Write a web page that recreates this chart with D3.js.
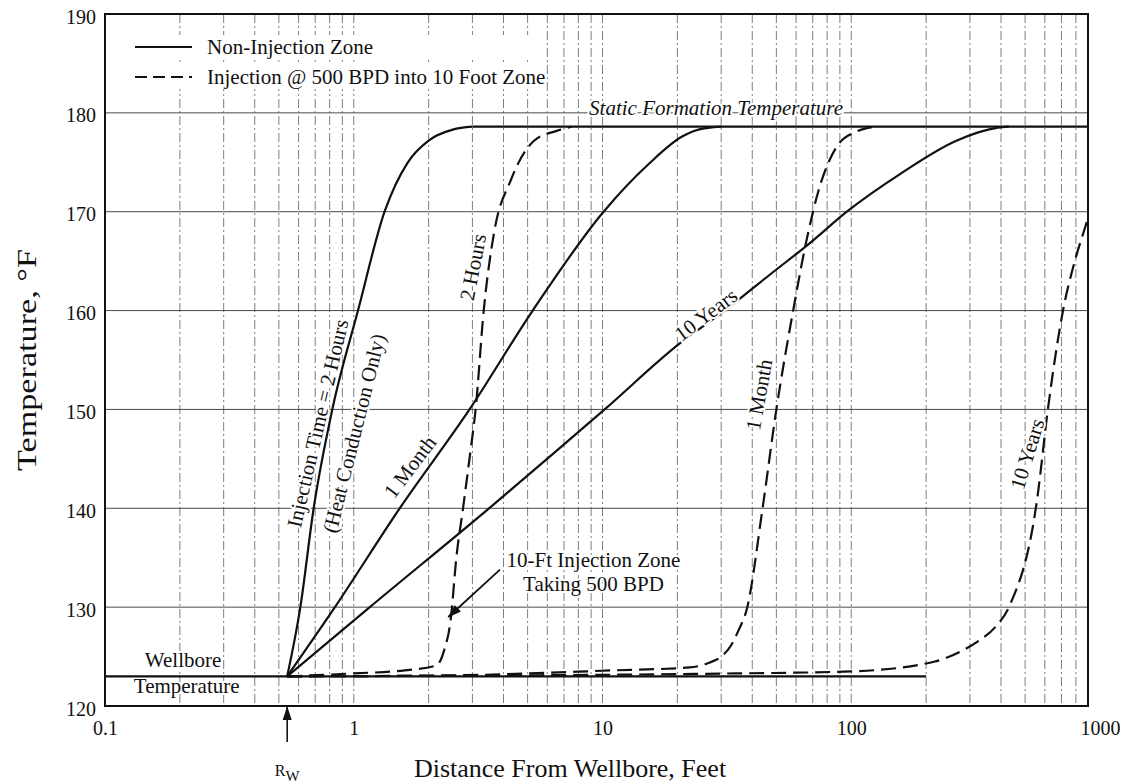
<!DOCTYPE html>
<html>
<head>
<meta charset="utf-8">
<script src="https://cdn.jsdelivr.net/npm/d3@7"></script>
<style>
  body { margin: 0; background: #fff; }
  svg { font-family: "Liberation Serif", "Times New Roman", serif; }
  .grid-v { stroke: #6f6f6f; stroke-width: 0.9; stroke-dasharray: 9,3,2,3; }
  .grid-h { stroke: #4a4a4a; stroke-width: 1; }
  .curve { fill: none; stroke: #111; stroke-width: 2.2; stroke-linejoin: round; }
  .dashed { stroke-dasharray: 15,7; }
  .halo { paint-order: stroke; stroke: #fff; stroke-width: 4; stroke-linejoin: round; }
  .axis text { font-family: "Liberation Serif", serif; font-size: 20px; fill: #111; }
</style>
</head>
<body>
<div id="chart"></div>
<script>
var margin = {top: 14, right: 37, bottom: 77, left: 105},
    width = 1125,
    height = 783;
var chartW = width - margin.left - margin.right,
    chartH = height - margin.top - margin.bottom,
    scaleW = 995;   // the 1000 label sits a little past the frame

var xTicks = [0.1, 1, 10, 100, 1000];
var yTicks = [120, 130, 140, 150, 160, 170, 180, 190];

var rw = 0.54;
var wellboreTemp = 123, wellboreEnd = 200;
var staticTemp = 178.6, staticStart = 3.0;

// non-injection zone, [distance ft, temp F]
var solid2Hours = [[0.54,123],[0.61,130],[0.69,140],[0.82,150],[1.04,160],[1.33,170],
  [1.65,175],[2.0,177.2],[2.5,178.3],[3.0,178.6]];
var solid1Month = [[0.54,123],[0.84,130],[1.53,140],[2.92,150],[5.24,160],[10.1,170],
  [15.3,174.8],[20.9,177.6],[24.3,178.3],[30,178.6]];
var solid10Years = [[0.54,123],[1.16,130],[3.5,140],[6.6,145.9],[10.2,150],[20.5,156.7],
  [31,160],[48,163.8],[68,166.8],[96,170],[157,173.8],[266,177.2],[389,178.5],[430,178.6]];

// injection @ 500 BPD into 10 ft zone
var dashed2Hours = [[0.54,123],[1.0,123.3],[1.6,123.6],[2.15,124.1],[2.3,125.5],[2.46,129],
  [2.58,134.8],[2.75,140],[2.95,145.9],[3.09,150],[3.33,160],[3.66,167.8],[4.28,173.2],
  [5.32,177.2],[6.59,178.2],[7.5,178.6]];
var dashed1Month = [[0.54,123],[2.46,123.1],[10.9,123.6],[22.4,123.9],[27,124.4],[30,125],
  [33,126.2],[35,127.5],[38.2,130],[44,140],[50,150],[58.4,160],[66.6,167.5],[74,172.2],
  [88.7,176.8],[105,178.1],[125,178.6]];
var dashed10Years = [[0.54,123],[35,123.3],[100,123.5],[217,124.5],[274,125.5],[326,126.6],
  [380,128],[434,130.2],[558,140.8],[618,150.1],[710,160],[794,165.1],[871,168.4],[896,169.4]];

var legendItems = ["Non-Injection Zone", "Injection @ 500 BPD into 10 Foot Zone"];

var notes = [
  {text: "Static Formation Temperature", x: 28.6, y: 180.5, angle: 0, italic: true},
  {text: "Injection Time = 2 Hours", x: 0.715, y: 148.6, angle: -77},
  {text: "(Heat Conduction Only)", x: 1.0, y: 147.6, angle: -76},
  {text: "1 Month", x: 1.68, y: 144.2, angle: -53},
  {text: "2 Hours", x: 3.01, y: 164.4, angle: -79},
  {text: "10 Years", x: 26, y: 159.6, angle: -37},
  {text: "1 Month", x: 42.5, y: 151.5, angle: -80},
  {text: "10 Years", x: 509, y: 145.5, angle: -73},
  {text: "10-Ft Injection Zone", x: 9.2, y: 134.8, angle: 0},
  {text: "Taking 500 BPD", x: 9.2, y: 132.4, angle: 0}
];
var wellboreNotes = [
  {text: "Wellbore", x: 0.206, y: 124.65},
  {text: "Temperature", x: 0.213, y: 122.1}
];
var zoneArrow = [[3.87, 133.8], [2.4, 129]];

var x = d3.scaleLog().domain([0.1, 1000]).range([0, scaleW]);
var y = d3.scaleLinear().domain([120, 190]).range([chartH, 0]);

var line = d3.line()
    .x(function(d) { return x(d[0]); })
    .y(function(d) { return y(d[1]); })
    .curve(d3.curveMonotoneX);

var svg = d3.select("#chart").append("svg")
    .attr("width", width)
    .attr("height", height);

var defs = svg.append("defs");
defs.append("marker")
    .attr("id", "head")
    .attr("markerUnits", "userSpaceOnUse")
    .attr("viewBox", "0 -5 14 10")
    .attr("refX", 13).attr("refY", 0)
    .attr("markerWidth", 14).attr("markerHeight", 10)
    .attr("orient", "auto")
  .append("path")
    .attr("d", "M0,-4.5L14,0L0,4.5Z")
    .attr("fill", "#111");
defs.append("clipPath").attr("id", "plot")
  .append("rect").attr("width", chartW).attr("height", chartH);

var g = svg.append("g")
    .attr("transform", "translate(" + margin.left + "," + margin.top + ")");

// grid
var minor = [];
[0.1, 1, 10, 100].forEach(function(dec) {
  for (var k = 1; k <= 9; k++) {
    if (dec * k > 0.1 && x(dec * k) < chartW - 2) minor.push(dec * k);
  }
});
g.append("g").selectAll("line")
  .data(minor)
  .enter().append("line")
    .attr("class", "grid-v")
    .attr("x1", function(d) { return x(d); })
    .attr("x2", function(d) { return x(d); })
    .attr("y1", 0).attr("y2", chartH);

g.append("g").selectAll("line")
  .data(yTicks.slice(1, -1))
  .enter().append("line")
    .attr("class", "grid-h")
    .attr("x1", 0).attr("x2", chartW)
    .attr("y1", function(d) { return y(d); })
    .attr("y2", function(d) { return y(d); });

// axes
g.append("g")
    .attr("class", "axis")
    .attr("transform", "translate(0," + chartH + ")")
    .call(d3.axisBottom(x).tickValues(xTicks).tickFormat(function(d) { return String(d); })
      .tickSize(0).tickPadding(15))
    .call(function(s) { s.select(".domain").remove(); });

g.append("g")
    .attr("class", "axis")
    .call(d3.axisLeft(y).tickValues(yTicks).tickSize(0).tickPadding(9))
    .call(function(s) {
      s.select(".domain").remove();
      s.selectAll("text").attr("dy", "0.45em");
    });

// wellbore text sits under the curves
g.append("g").selectAll("text")
  .data(wellboreNotes)
  .enter().append("text")
    .attr("class", "halo")
    .attr("x", function(d) { return x(d.x); })
    .attr("y", function(d) { return y(d.y); })
    .attr("dy", "0.35em")
    .attr("text-anchor", "middle")
    .style("font-size", "21px")
    .style("fill", "#111")
    .text(function(d) { return d.text; });

// curves
var curves = g.append("g").attr("clip-path", "url(#plot)");
curves.append("path").datum([[0.1, wellboreTemp], [wellboreEnd, wellboreTemp]])
    .attr("class", "curve").attr("d", line);
curves.append("path").datum([[staticStart, staticTemp], [1000, staticTemp]])
    .attr("class", "curve").attr("d", line);

[solid2Hours, solid1Month, solid10Years].forEach(function(s) {
  curves.append("path").datum(s).attr("class", "curve").attr("d", line);
});
[dashed2Hours, dashed1Month, dashed10Years].forEach(function(s) {
  curves.append("path").datum(s).attr("class", "curve dashed").attr("d", line);
});

// frame
g.append("rect")
    .attr("width", chartW).attr("height", chartH)
    .attr("fill", "none").attr("stroke", "#111").attr("stroke-width", 2);

// annotations
g.append("g").selectAll("text")
  .data(notes)
  .enter().append("text")
    .attr("class", "halo")
    .attr("transform", function(d) {
      return "translate(" + x(d.x) + "," + y(d.y) + ") rotate(" + d.angle + ")";
    })
    .attr("dy", "0.35em")
    .attr("text-anchor", "middle")
    .style("font-size", "21px")
    .style("font-style", function(d) { return d.italic ? "italic" : "normal"; })
    .style("fill", "#111")
    .text(function(d) { return d.text; });

g.append("path").datum(zoneArrow)
    .attr("d", d3.line().x(function(d) { return x(d[0]); }).y(function(d) { return y(d[1]); }))
    .attr("stroke", "#111").attr("stroke-width", 1.8).attr("fill", "none")
    .attr("marker-end", "url(#head)");

// legend
var legend = g.append("g").attr("transform", "translate(30,33)");
legendItems.forEach(function(t, i) {
  var row = legend.append("g").attr("transform", "translate(0," + (i * 30) + ")");
  row.append("rect").attr("x", -4).attr("y", -12).attr("width", 400).attr("height", 24)
      .attr("fill", "#fff");
  row.append("line")
      .attr("x1", 0).attr("x2", 57).attr("y1", 0).attr("y2", 0)
      .attr("stroke", "#111").attr("stroke-width", 2)
      .attr("stroke-dasharray", i ? "12,6" : null);
  row.append("text")
      .attr("x", 72).attr("dy", "0.35em")
      .style("font-size", "21px").style("fill", "#111")
      .text(t);
});

// Rw marker below the axis
var rwg = g.append("g").attr("transform", "translate(" + x(rw) + "," + chartH + ")");
rwg.append("line")
    .attr("x1", 0).attr("x2", 0).attr("y1", 36).attr("y2", 1)
    .attr("stroke", "#111").attr("stroke-width", 1.6)
    .attr("marker-end", "url(#head)");
var rwText = rwg.append("text")
    .attr("y", 70).attr("text-anchor", "middle")
    .style("font-size", "16px").style("fill", "#111");
rwText.append("tspan").text("R");
rwText.append("tspan").attr("dy", 5).style("font-size", "15px").text("W");

// titles
svg.append("text")
    .attr("x", 570).attr("y", 777)
    .attr("text-anchor", "middle")
    .style("font-size", "26px").style("fill", "#111")
    .text("Distance From Wellbore, Feet");

svg.append("text")
    .attr("transform", "translate(36," + (margin.top + chartH / 2) + ") rotate(-90)")
    .attr("text-anchor", "middle")
    .attr("textLength", 222)
    .attr("lengthAdjust", "spacingAndGlyphs")
    .style("font-size", "28px").style("fill", "#111")
    .text("Temperature, \u00b0F");
</script>
</body>
</html>
